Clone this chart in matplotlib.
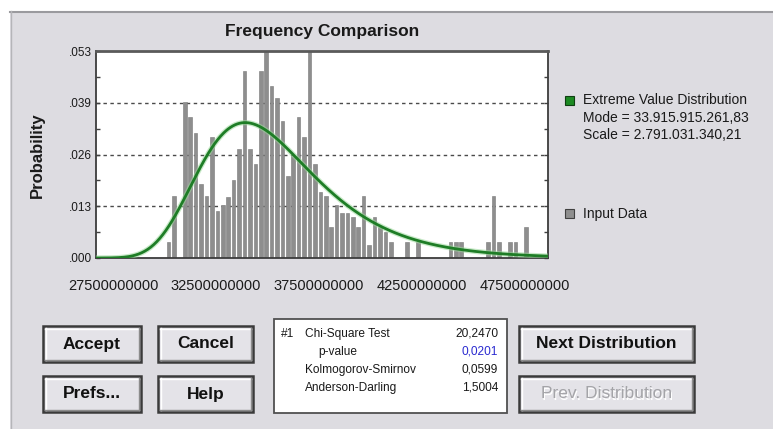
import numpy as np
import matplotlib
matplotlib.use("Agg")
import matplotlib.pyplot as plt
from matplotlib.patches import Rectangle

plt.rcParams['font.family'] = ['Liberation Sans', 'DejaVu Sans']

# Histogram of the input data: bin centres start at BIN_START, one bin per BIN_WIDTH
BIN_START = 30.2e9
BIN_WIDTH = 0.263e9
input_probability = [
    0.004, 0.016, 0.0, 0.040, 0.036, 0.032, 0.019, 0.016, 0.031, 0.012,
    0.0135, 0.0155, 0.020, 0.028, 0.048, 0.028, 0.024, 0.048, 0.053, 0.044,
    0.041, 0.035, 0.021, 0.026, 0.036, 0.031, 0.053, 0.024, 0.017, 0.016,
    0.008, 0.0135, 0.0115, 0.0115, 0.0105, 0.008, 0.016, 0.0033, 0.0105, 0.008,
    0.0066, 0.004, 0.0, 0.0, 0.004, 0.0, 0.004, 0.0, 0.0, 0.0,
    0.0, 0.0, 0.004, 0.004, 0.004, 0.0, 0.0, 0.0, 0.0, 0.004,
    0.016, 0.004, 0.0, 0.004, 0.004, 0.0, 0.008,
]

# Fitted extreme value (Gumbel) distribution
EV_MODE = 33915915261.83
EV_SCALE = 2791031340.21
legend_lines = ["Extreme Value Distribution",
                "Mode = 33.915.915.261,83",
                "Scale = 2.791.031.340,21"]

x_ticks = [27.5e9, 32.5e9, 37.5e9, 42.5e9, 47.5e9]
y_ticks = [0.0, 0.01325, 0.0265, 0.03975, 0.053]
y_tick_labels = [".000", ".013", ".026", ".039", ".053"]

stat_names = ["Chi-Square Test", "p-value", "Kolmogorov-Smirnov", "Anderson-Darling"]
stat_values = ["20,2470", "0,0201", "0,0599", "1,5004"]

W, H = 773, 429
fig = plt.figure(figsize=(W / 100, H / 100), dpi=100, facecolor="white")

PANEL = "#dddce1"

# background layer in pixel coordinates (origin top-left)
bg = fig.add_axes([0, 0, 1, 1], zorder=0)
bg.set_xlim(0, W)
bg.set_ylim(H, 0)
bg.axis("off")
bg.add_patch(Rectangle((10, 11), W - 10, H - 11, facecolor=PANEL, edgecolor="none"))
bg.plot([10, W], [11.5, 11.5], color="#9a9a9e", lw=1.5)
bg.plot([10.5, 10.5], [11, H], color="#b5b5b9", lw=1.0)


def px(x0, y0):
    return x0 / W, 1 - y0 / H


# main chart area
left, right, top, bottom = 96, 548, 51, 258
ax = fig.add_axes([left / W, 1 - bottom / H, (right - left) / W, (bottom - top) / H], zorder=2)
ax.set_facecolor("white")

centers = BIN_START + BIN_WIDTH * np.arange(len(input_probability))
ax.bar(centers, input_probability, width=BIN_WIDTH * 0.66, color="#8e8e8e",
       edgecolor="#777777", linewidth=0.4, zorder=2)

xs = np.linspace(26.6e9, 48.7e9, 600)
z = (xs - EV_MODE) / EV_SCALE
curve = np.exp(-(z + np.exp(-z))) / EV_SCALE * BIN_WIDTH
ax.plot(xs, curve, color="#9ad89a", lw=3.8, alpha=0.55, zorder=3, solid_capstyle="butt")
ax.plot(xs, curve, color="#1e7d26", lw=2.0, zorder=4)

for yv in y_ticks[1:4]:
    ax.axhline(yv, color="#4a4a4a", lw=1.0, ls=(0, (2.5, 2.5)), zorder=1)

ax.set_xlim(26.675e9, 48.617e9)
ax.set_ylim(0, 0.053)
ax.set_yticks(y_ticks)
ax.set_yticklabels(y_tick_labels)
ax.set_yticks([0.006625, 0.019875, 0.033125, 0.046375], minor=True)
ax.set_xticks(x_ticks)
ax.set_xticklabels([f"{int(v)}" for v in x_ticks])
ax.tick_params(axis="y", which="both", direction="in", left=True, right=True,
               length=3, width=1, color="#404040", labelsize=8.5, pad=3,
               labelcolor="#1a1a1a")
ax.tick_params(axis="x", direction="in", length=0, labelsize=10.5, pad=15,
               labelcolor="#1a1a1a")
for side, sp in ax.spines.items():
    sp.set_color("#3c3c3c")
    sp.set_linewidth(1.3)
ax.spines["top"].set_linewidth(2.0)
ax.spines["top"].set_color("#5a5a5a")

ax.set_title("Frequency Comparison", fontsize=12.5, fontweight="bold", color="#1a1a1a", pad=11)
fig.text(*px(37, 155), "Probability", rotation=90, ha="center", va="center",
         fontsize=12, fontweight="bold", color="#1a1a1a")

# legend beside the chart
bg.add_patch(Rectangle((565, 96), 9, 9, facecolor="#1c8a22", edgecolor="#0f3f12", lw=0.8))
for i, line in enumerate(legend_lines):
    bg.text(583, 100 + i * 17.5, line, fontsize=10, va="center", ha="left", color="#1a1a1a")
bg.add_patch(Rectangle((565, 209), 9, 9, facecolor="#8e8e8e", edgecolor="#404040", lw=0.8))
bg.text(583, 214, "Input Data", fontsize=10, va="center", ha="left", color="#1a1a1a")


def button(x0, y0, x1, y1, label, enabled=True):
    bg.add_patch(Rectangle((x0, y0), x1 - x0, y1 - y0, facecolor="#e4e3e8",
                           edgecolor="#3a3a3a", lw=1.8, zorder=2))
    bg.plot([x0 + 2, x1 - 2], [y0 + 2.5, y0 + 2.5], color="white", lw=1, zorder=3)
    bg.plot([x0 + 2.5, x0 + 2.5], [y0 + 2, y1 - 2], color="white", lw=1, zorder=3)
    bg.plot([x0 + 2, x1 - 2], [y1 - 2.5, y1 - 2.5], color="#8c8c8c", lw=1, zorder=3)
    bg.plot([x1 - 2.5, x1 - 2.5], [y0 + 2, y1 - 2], color="#8c8c8c", lw=1, zorder=3)
    cx, cy = (x0 + x1) / 2, (y0 + y1) / 2
    if enabled:
        bg.text(cx, cy, label, ha="center", va="center", fontsize=12.5,
                fontweight="bold", color="#111111", zorder=4)
    else:
        bg.text(cx + 1, cy + 1, label, ha="center", va="center", fontsize=12.5,
                color="white", zorder=4)
        bg.text(cx, cy, label, ha="center", va="center", fontsize=12.5,
                color="#a4a4a8", zorder=5)


button(43, 326, 141, 362, "Accept")
button(158, 326, 253, 362, "Cancel")
button(43, 376, 141, 412, "Prefs...")
button(158, 376, 253, 412, "Help")
button(519, 326, 694, 362, "Next Distribution")
button(519, 376, 694, 412, "Prev. Distribution", enabled=False)

# goodness-of-fit summary box
bg.add_patch(Rectangle((274, 319), 233, 94, facecolor="white", edgecolor="#505050", lw=1.3, zorder=2))
bg.text(281, 334, "#1", fontsize=8.6, va="center", ha="left", color="#1a1a1a", zorder=3)
name_x = [305, 318, 305, 305]
for i, (name, val) in enumerate(zip(stat_names, stat_values)):
    yy = 334 + i * 18
    bg.text(name_x[i], yy, name, fontsize=8.6, va="center", ha="left", color="#1a1a1a", zorder=3)
    bg.text(498, yy, val, fontsize=8.6, va="center", ha="right",
            color="#2a2ad0" if i == 1 else "#1a1a1a", zorder=3)

fig.savefig("out.png", dpi=100, facecolor="white")
